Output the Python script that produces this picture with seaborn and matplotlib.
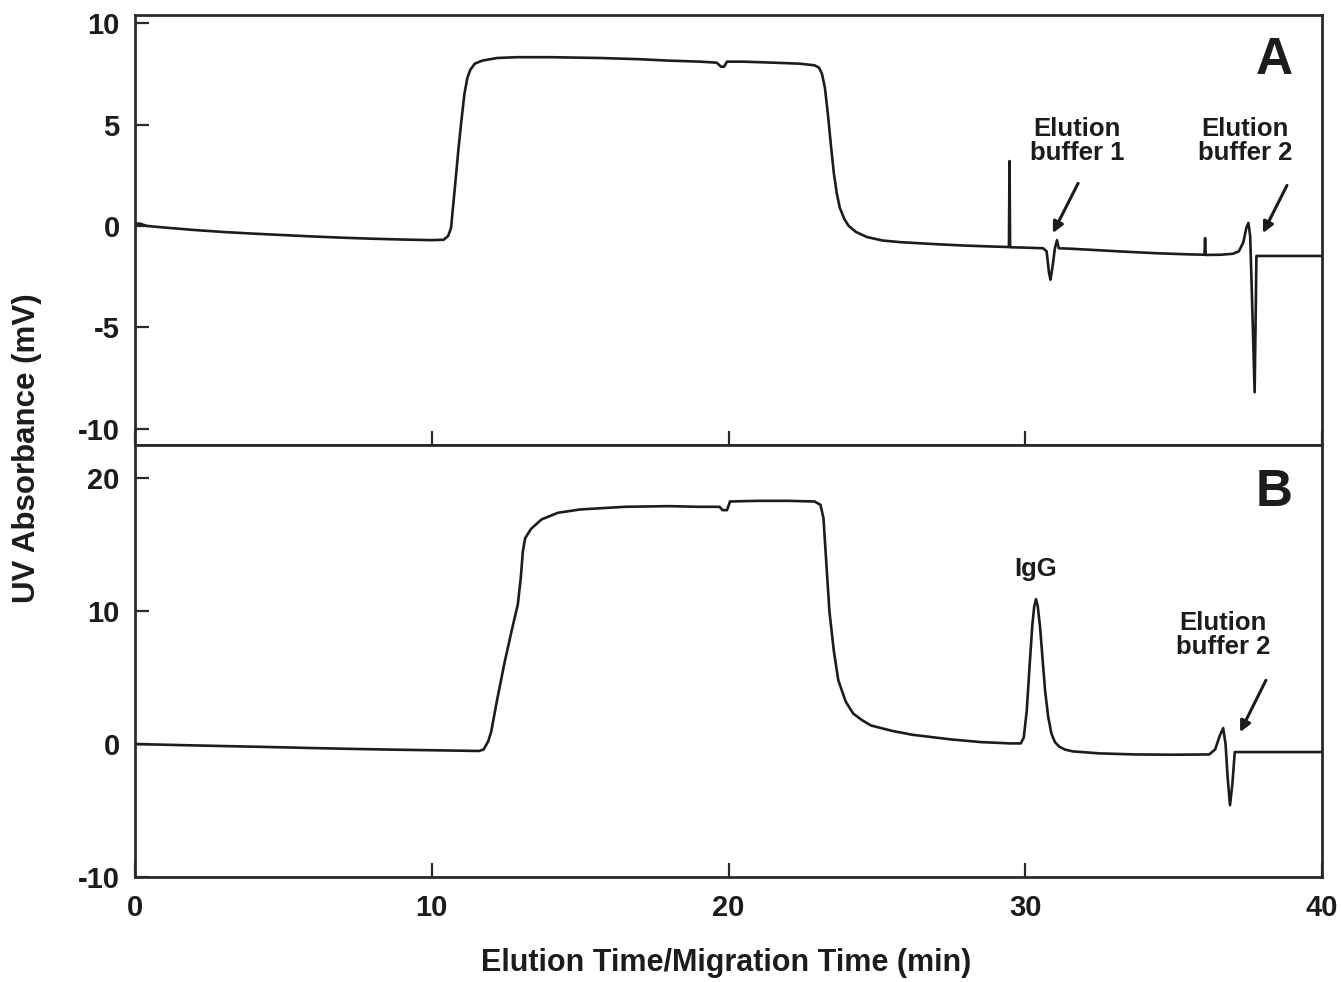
import matplotlib
matplotlib.use("Agg")
import matplotlib.pyplot as plt
import seaborn as sns
import pandas as pd

# ---- Data ----
# Panel A: time (min), UV absorbance (mV)
time_a = [0.0, 0.15, 0.4, 1.0, 2.0, 3.0, 4.0, 5.0, 6.0, 7.0, 8.0, 9.0, 10.0, 10.4,
          10.55, 10.65, 10.78, 10.9, 11.0, 11.1, 11.2, 11.3, 11.45, 11.7, 12.2, 12.87,
          14.0, 15.67, 17.0, 18.0, 19.04, 19.6, 19.75, 19.85, 19.95, 20.5, 21.5, 22.4,
          22.9, 23.05, 23.15, 23.25, 23.35, 23.45, 23.55, 23.65, 23.75, 23.9, 24.05,
          24.3, 24.67, 25.2, 25.8, 27.0, 28.0, 29.0, 29.45, 29.47, 29.49, 30.0, 30.6,
          30.72, 30.8, 30.85, 30.92, 31.0, 31.07, 31.13, 31.5, 32.5, 33.5, 34.5, 35.5,
          36.04, 36.06, 36.08, 36.6, 37.0, 37.2, 37.35, 37.45, 37.52, 37.58, 37.65,
          37.73, 37.76, 37.79, 37.9, 40.0]
signal_a = [0.10, 0.12, 0.0, -0.08, -0.2, -0.3, -0.38, -0.45, -0.52, -0.58, -0.63, -0.67,
            -0.70, -0.68, -0.5, -0.1, 1.9, 3.8, 5.2, 6.5, 7.3, 7.7, 8.0, 8.15, 8.28, 8.32,
            8.32, 8.28, 8.22, 8.15, 8.1, 8.05, 7.85, 7.85, 8.1, 8.1, 8.05, 8.0,
            7.92, 7.8, 7.5, 6.8, 5.5, 4.0, 2.6, 1.6, 0.9, 0.35, 0.0,
            -0.3, -0.55, -0.72, -0.8, -0.9, -0.97, -1.02, -1.04, 3.2, -1.05, -1.07, -1.1,
            -1.25, -2.3, -2.65, -2.0, -1.1, -0.7, -1.1, -1.12, -1.2, -1.28, -1.35, -1.4,
            -1.42, -0.6, -1.43, -1.42, -1.37, -1.25, -0.8, -0.1, 0.15, -0.5, -4.0,
            -8.2, -5.0, -1.48, -1.48, -1.48]

# Panel B: time (min), UV absorbance (mV)
time_b = [0.0, 1.0, 2.0, 3.0, 4.5, 6.0, 7.5, 9.0, 10.5, 11.6, 11.75, 11.9, 12.0, 12.2,
          12.45, 12.7, 12.9, 13.0, 13.07, 13.15, 13.35, 13.7, 14.25, 15.0, 16.5, 18.0,
          19.0, 19.7, 19.8, 19.95, 20.05, 21.0, 22.0, 22.9, 23.1, 23.2, 23.3, 23.4,
          23.55, 23.7, 23.95, 24.2, 24.5, 24.8, 25.5, 26.2, 27.5, 28.5, 29.5, 29.85,
          29.95, 30.05, 30.15, 30.24, 30.3, 30.36, 30.42, 30.5, 30.58, 30.67, 30.77,
          30.88, 31.0, 31.15, 31.35, 31.6, 32.5, 33.7, 35.0, 36.2, 36.4, 36.55, 36.67,
          36.75, 36.82, 36.9, 36.98, 37.06, 37.2, 40.0]
signal_b = [0.0, -0.05, -0.1, -0.15, -0.22, -0.3, -0.37, -0.43, -0.48, -0.52, -0.4, 0.2,
            0.9, 3.3, 6.1, 8.6, 10.5, 12.5, 14.5, 15.5, 16.2, 16.9, 17.4, 17.65, 17.85,
            17.9, 17.85, 17.85, 17.6, 17.6, 18.25, 18.3, 18.3, 18.25, 18.0, 17.0, 13.5,
            10.0, 7.0, 4.8, 3.2, 2.3, 1.8, 1.4, 1.0, 0.7, 0.35, 0.15, 0.05, 0.05,
            0.5, 2.5, 6.0, 9.0, 10.3, 10.9, 10.4, 8.8, 6.5, 4.0, 2.1,
            0.8, 0.15, -0.2, -0.42, -0.55, -0.7, -0.78, -0.8, -0.78, -0.4, 0.6, 1.2,
            0.0, -2.5, -4.6, -3.0, -0.6, -0.6, -0.6]

x_ticks = [0, 10, 20, 30, 40]
y_ticks_a = [-10, -5, 0, 5, 10]
y_ticks_b = [-10, 0, 10, 20]

# ---- Styling ----
sns.set_theme(style="ticks")
plt.rcParams["font.family"] = ["Liberation Sans", "DejaVu Sans"]
plt.rcParams["font.weight"] = "bold"

INK = "#1c1c1c"
fig = plt.figure(figsize=(13.41, 9.82), dpi=100)
L, R = 135 / 1341, 1322 / 1341
ax_a = fig.add_axes([L, 1 - 445 / 982, R - L, 430 / 982])
ax_b = fig.add_axes([L, 1 - 877 / 982, R - L, 432 / 982], sharex=ax_a)

df_a = pd.DataFrame({"time": time_a, "signal": signal_a})
df_b = pd.DataFrame({"time": time_b, "signal": signal_b})
sns.lineplot(data=df_a, x="time", y="signal", ax=ax_a, estimator=None, sort=False,
             color=INK, linewidth=1.9)
sns.lineplot(data=df_b, x="time", y="signal", ax=ax_b, estimator=None, sort=False,
             color=INK, linewidth=1.9)

for ax in (ax_a, ax_b):
    for s in ax.spines.values():
        s.set_visible(True)
        s.set_linewidth(2.0)
        s.set_color("#2a2a2a")
    ax.tick_params(direction="in", length=10, width=1.6, color="#2a2a2a",
                   labelsize=21, labelcolor=INK, top=False, right=False)
    ax.tick_params(axis="y", pad=11)
    ax.tick_params(axis="x", pad=12)
    ax.set_xlabel("")
    ax.set_ylabel("")

ax_a.set_xlim(0, 40)
ax_a.set_xticks(x_ticks)
ax_a.set_ylim(-10.8, 10.4)
ax_a.set_yticks(y_ticks_a)
ax_a.tick_params(axis="x", labelbottom=False)
ax_b.set_ylim(-10, 22.5)
ax_b.set_yticks(y_ticks_b)
ax_b.set_xticks(x_ticks)
ax_b.set_yticklabels([str(v) for v in y_ticks_b], fontweight="bold")
ax_a.set_yticklabels([str(v) for v in y_ticks_a], fontweight="bold")
ax_b.set_xticklabels([str(v) for v in x_ticks], fontweight="bold")

# Panel letters
ax_a.text(0.960, 0.895, "A", transform=ax_a.transAxes, ha="center", va="center",
          fontsize=37, fontweight="bold", color=INK)
ax_b.text(0.960, 0.891, "B", transform=ax_b.transAxes, ha="center", va="center",
          fontsize=37, fontweight="bold", color=INK)

# Annotations panel A
ann_kw = dict(ha="center", va="center", fontsize=18.5, fontweight="bold", color=INK,
              linespacing=1.0)
arrow_kw = dict(arrowstyle="-|>", lw=2.2, color=INK, mutation_scale=16,
                shrinkA=0, shrinkB=0)
ax_a.text(31.74, 4.2, "Elution\nbuffer 1", **ann_kw)
ax_a.annotate("", xy=(30.93, -0.35), xytext=(31.78, 2.1), arrowprops=arrow_kw)
ax_a.text(37.4, 4.2, "Elution\nbuffer 2", **ann_kw)
ax_a.annotate("", xy=(38.01, -0.35), xytext=(38.82, 2.0), arrowprops=arrow_kw)

# Annotations panel B
ax_b.text(30.36, 13.2, "IgG", **ann_kw)
ax_b.text(36.66, 8.2, "Elution\nbuffer 2", **ann_kw)
ax_b.annotate("", xy=(37.24, 0.9), xytext=(38.11, 4.8), arrowprops=arrow_kw)

# Axis titles
fig.text(726 / 1341, 1 - 963 / 982, "Elution Time/Migration Time (min)", ha="center",
         va="center", fontsize=22, fontweight="bold", color=INK)
fig.text(27 / 1341, 1 - 448 / 982, "UV Absorbance (mV)", ha="center", va="center",
         rotation=90, fontsize=22.5, fontweight="bold", color=INK)

fig.savefig("out.png", dpi=100, facecolor="white")
